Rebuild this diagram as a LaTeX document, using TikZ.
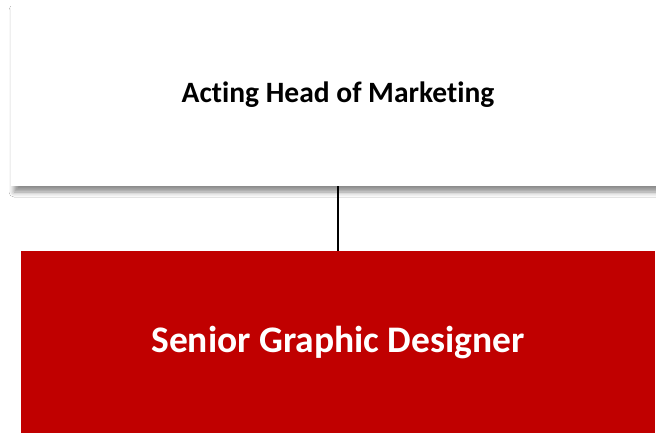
\documentclass[tikz,border=0pt]{standalone}
\usepackage{fontspec}
\setmainfont[Ligatures=NoCommon]{Carlito}
\usetikzlibrary{shadows.blur}
\definecolor{boxred}{HTML}{C00000}
\tikzset{
  topbox/.style={fill=white, draw=none, minimum width=654pt, minimum height=182pt,
    blur shadow={shadow xshift=3pt, shadow yshift=-6pt, shadow blur radius=5pt, shadow opacity=45},
    font=\bfseries\fontsize{29.5}{34}\selectfont, text=black},
  redbox/.style={fill=boxred, draw=none, minimum width=634pt, minimum height=184pt,
    font=\bfseries\fontsize{37.5}{44}\selectfont, text=white},
  link/.style={draw=black, line width=2pt}
}
\begin{document}
\begin{tikzpicture}[x=1pt,y=-1pt]
\useasboundingbox (0,0) rectangle (656,432);
\fill[white] (0,0) rectangle (656,432);
\begin{scope}
\clip (0,0) rectangle (656,432);
\node[topbox] (head) at (338,95) {Acting Head of Marketing};
\node[redbox] (sgd) at (338,343) {Senior Graphic Designer};
\draw[link] (head.south) -- (sgd.north);
\end{scope}
\end{tikzpicture}
\end{document}
